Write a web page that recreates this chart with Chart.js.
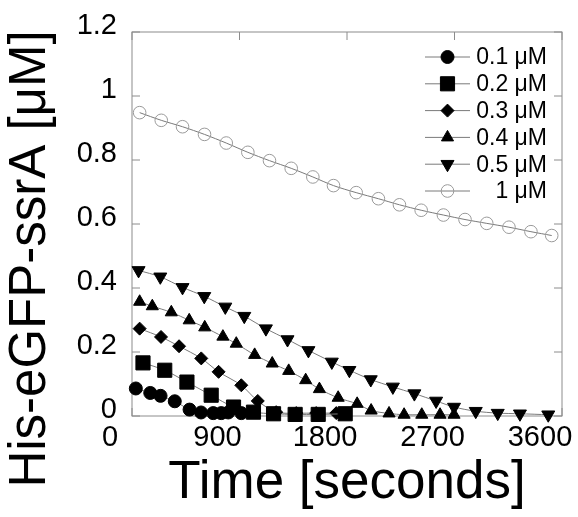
<!DOCTYPE html>
<html>
<head>
<meta charset="utf-8">
<script src="https://cdn.jsdelivr.net/npm/chart.js@4/dist/chart.umd.min.js"></script>
<style>
  body { margin: 0; background: #fff; }
</style>
</head>
<body>
<canvas id="kinetics" width="578" height="517"></canvas>
<script>
var FONT = "'Liberation Sans', Arial, sans-serif";

// concentrations of substrate
var labels = ['0.1 μM', '0.2 μM', '0.3 μM', '0.4 μM', '0.5 μM', '1 μM'];

// time points (s) and remaining His-eGFP-ssrA (μM)
var t01 = [32, 153, 239, 358, 482, 578, 680, 747, 806, 915];
var y01 = [0.086, 0.072, 0.063, 0.046, 0.020, 0.011, 0.009, 0.009, 0.011, 0.009];

var t02 = [92, 274, 460, 663, 850, 1017, 1185, 1366, 1559, 1785];
var y02 = [0.166, 0.143, 0.106, 0.065, 0.028, 0.012, 0.007, 0.005, 0.005, 0.007];

var t03 = [64, 243, 394, 580, 725, 915, 1053, 1207, 1375, 1542, 1710];
var y03 = [0.273, 0.247, 0.218, 0.180, 0.138, 0.096, 0.047, 0.012, 0.009, 0.009, 0.009];

var t04 = [64, 170, 329, 479, 609, 761, 873, 1027, 1174, 1312, 1454, 1569, 1726, 1885, 2002, 2152, 2278, 2426, 2579, 2696];
var y04 = [0.357, 0.343, 0.324, 0.299, 0.277, 0.248, 0.226, 0.191, 0.164, 0.141, 0.112, 0.084, 0.057, 0.038, 0.017, 0.008, 0.004, 0.004, 0.004, 0.004];

var t05 = [55, 237, 423, 605, 781, 940, 1121, 1302, 1477, 1673, 1820, 1999, 2184, 2364, 2546, 2696, 2878, 3062, 3248, 3485];
var y05 = [0.455, 0.435, 0.402, 0.374, 0.341, 0.312, 0.273, 0.239, 0.205, 0.169, 0.143, 0.114, 0.091, 0.070, 0.047, 0.028, 0.015, 0.009, 0.007, 0.004];

var t10 = [64, 245, 423, 607, 789, 970, 1151, 1333, 1514, 1687, 1877, 2063, 2239, 2421, 2607, 2788, 2970, 3156, 3340, 3514];
var y10 = [0.948, 0.924, 0.904, 0.880, 0.853, 0.824, 0.798, 0.774, 0.747, 0.720, 0.698, 0.679, 0.660, 0.643, 0.628, 0.614, 0.602, 0.590, 0.576, 0.564];

var xTicks = [0, 900, 1800, 2700, 3600];
var yTicks = [0, 0.2, 0.4, 0.6, 0.8, 1, 1.2];

function pts(t, v) {
  return t.map(function (x, i) { return { x: x, y: v[i] }; });
}

function series(label, t, v, style, radius, rot, open) {
  return {
    label: label,
    data: pts(t, v),
    showLine: true,
    borderColor: '#7a7a7a',
    borderWidth: 1,
    tension: 0.3,
    clip: false,
    pointStyle: style,
    pointRadius: radius,
    pointRotation: rot,
    pointBackgroundColor: open ? 'rgba(0,0,0,0)' : '#000',
    pointBorderColor: open ? '#9a9a9a' : '#000',
    pointBorderWidth: 1
  };
}

var datasets = [
  series(labels[0], t01, y01, 'circle', 6.5, 0, false),
  series(labels[1], t02, y02, 'rect', 10, 0, false),
  series(labels[2], t03, y03, 'rectRot', 6.5, 0, false),
  series(labels[3], t04, y04, 'triangle', 7, 0, false),
  series(labels[4], t05, y05, 'triangle', 7.5, 180, false),
  series(labels[5], t10, y10, 'circle', 6.3, 0, true)
];

// box with inward ticks on all four sides
var frame = {
  id: 'frame',
  beforeDatasetsDraw: function (chart) {
    var ctx = chart.ctx, a = chart.chartArea;
    var x = chart.scales.x, y = chart.scales.y;
    ctx.save();
    ctx.strokeStyle = '#8c8c8c';
    ctx.lineWidth = 1;
    ctx.strokeRect(a.left, a.top, a.right - a.left, a.bottom - a.top);
    ctx.beginPath();
    xTicks.forEach(function (v) {
      var px = x.getPixelForValue(v);
      ctx.moveTo(px, a.top); ctx.lineTo(px, a.top + 8);
      ctx.moveTo(px, a.bottom); ctx.lineTo(px, a.bottom - 8);
    });
    yTicks.forEach(function (v) {
      var py = y.getPixelForValue(v);
      ctx.moveTo(a.left, py); ctx.lineTo(a.left + 8, py);
      ctx.moveTo(a.right, py); ctx.lineTo(a.right - 8, py);
    });
    ctx.stroke();
    ctx.restore();
  },
  afterDraw: function (chart) {
    var ctx = chart.ctx;
    ctx.save();
    // legend
    chart.data.datasets.forEach(function (ds, i) {
      var ly = 57 + i * 26.8;
      ctx.strokeStyle = ds.borderColor;
      ctx.lineWidth = 1;
      ctx.beginPath();
      ctx.moveTo(425, ly); ctx.lineTo(470, ly);
      ctx.stroke();
      ctx.fillStyle = ds.pointBackgroundColor;
      ctx.strokeStyle = ds.pointBorderColor;
      Chart.helpers.drawPoint(ctx, {
        pointStyle: ds.pointStyle, radius: ds.pointRadius,
        rotation: ds.pointRotation, borderWidth: 1
      }, 447.5, ly);
      ctx.fillStyle = '#000';
      ctx.font = '23px ' + FONT;
      ctx.textAlign = 'right';
      ctx.textBaseline = 'middle';
      ctx.fillText(ds.label, 547, ly + 1);
    });
    // y axis title
    ctx.translate(31, 259);
    ctx.rotate(-Math.PI / 2);
    ctx.fillStyle = '#000';
    ctx.font = '51px ' + FONT;
    ctx.textAlign = 'center';
    ctx.textBaseline = 'middle';
    ctx.fillText('His-eGFP-ssrA [μM]', 0, 0);
    ctx.restore();
  }
};

var chart = new Chart(document.getElementById('kinetics'), {
  type: 'scatter',
  data: { datasets: datasets },
  options: {
    responsive: false,
    animation: false,
    layout: { padding: { top: 32, right: 16, left: 0, bottom: 0 } },
    plugins: { legend: { display: false }, tooltip: { enabled: false } },
    scales: {
      x: {
        type: 'linear', min: 0, max: 3600,
        grid: { display: false, drawTicks: false },
        border: { display: false },
        afterBuildTicks: function (s) { s.ticks = xTicks.map(function (v) { return { value: v }; }); },
        ticks: {
          padding: 5, labelOffset: -22, maxRotation: 0, color: '#000', font: { size: 29, family: FONT },
          callback: function (v) { return String(v); }
        },
        title: { display: true, text: 'Time [seconds]', color: '#000', font: { size: 53, family: FONT }, padding: { top: 0, bottom: 2 } },
        afterFit: function (s) { s.height = 101; s.paddingLeft = 0; s.paddingRight = 0; }
      },
      y: {
        type: 'linear', min: 0, max: 1.2,
        grid: { display: false, drawTicks: false },
        border: { display: false },
        afterBuildTicks: function (s) { s.ticks = yTicks.map(function (v) { return { value: v }; }); },
        ticks: {
          padding: 15, labelOffset: -6, color: '#000', font: { size: 29, family: FONT },
          callback: function (v) { return String(Number(v.toFixed(1))); }
        },
        afterFit: function (s) { s.width = 132; s.paddingTop = 0; s.paddingBottom = 0; }
      }
    }
  },
  plugins: [frame]
});
</script>
</body>
</html>
